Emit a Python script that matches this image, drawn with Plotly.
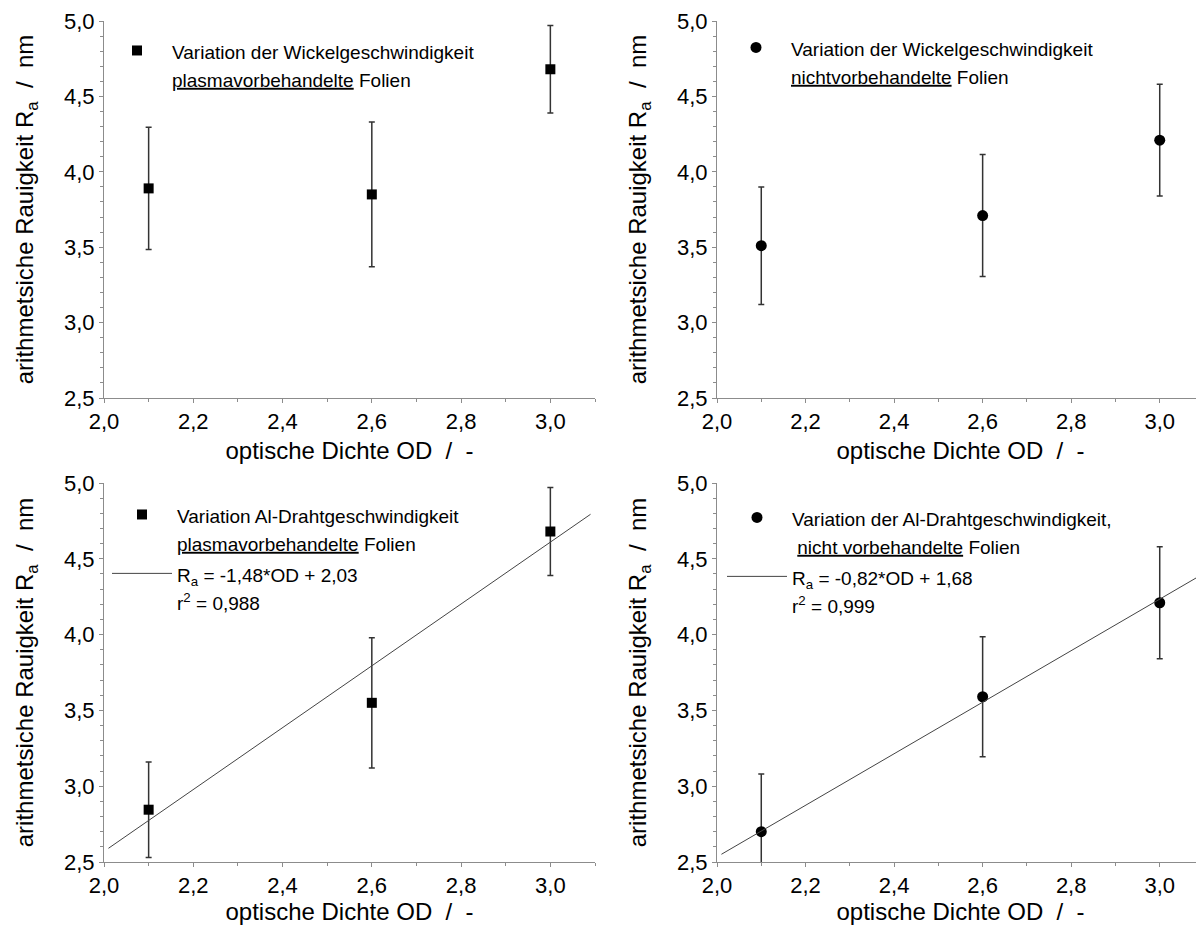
import plotly.graph_objects as go
import numpy as np

# ---------------- data ----------------
od = [2.1, 2.6, 3.0]

ra_wickel_plasma = [3.89, 3.85, 4.68]
err_wickel_plasma = [0.405, 0.48, 0.29]

ra_wickel_nicht = [3.51, 3.71, 4.21]
err_wickel_nicht = [0.39, 0.405, 0.37]

ra_draht_plasma = [2.845, 3.55, 4.68]
err_draht_plasma = [0.315, 0.43, 0.29]

ra_draht_nicht = [2.70, 3.59, 4.21]
err_draht_nicht = [0.38, 0.395, 0.37]

fit_od = [2.01, 3.09]
fit_draht_plasma = (2.04, -1.51)   # slope, intercept as drawn
fit_draht_nicht = (1.70, -0.866)

x_ticks = [2.0, 2.2, 2.4, 2.6, 2.8, 3.0]
y_ticks = [2.5, 3.0, 3.5, 4.0, 4.5, 5.0]

FONT = "Arial, Liberation Sans, sans-serif"
AX_COL = "#8c8c8c"
ERR_COL = "#333333"

W, H = 1204, 927
OFF = 9  # page body offset


def px(xs):
    return (xs - OFF) / W


def py(ys):
    return 1 - (ys - OFF) / H


def lg(t):
    return '<span style="font-size:19px">' + t + '</span>'


fig = go.Figure()


def ebar(err):
    return dict(type="data", array=err, visible=True, color=ERR_COL, thickness=1.5, width=3)


# panel 1
fig.add_trace(go.Scatter(x=od, y=ra_wickel_plasma, error_y=ebar(err_wickel_plasma), mode="markers",
                         marker=dict(symbol="square", size=10, color="black"),
                         name=lg("Variation der Wickelgeschwindigkeit<br><u>plasmavorbehandelte</u> Folien"),
                         xaxis="x", yaxis="y", legend="legend"))
# panel 2
fig.add_trace(go.Scatter(x=od, y=ra_wickel_nicht, error_y=ebar(err_wickel_nicht), mode="markers",
                         marker=dict(symbol="circle", size=11, color="black"),
                         name=lg("Variation der Wickelgeschwindigkeit<br><u>nichtvorbehandelte</u> Folien"),
                         xaxis="x2", yaxis="y2", legend="legend2"))
# panel 3
fig.add_trace(go.Scatter(x=od, y=ra_draht_plasma, error_y=ebar(err_draht_plasma), mode="markers",
                         marker=dict(symbol="square", size=10, color="black"),
                         name=lg("Variation Al-Drahtgeschwindigkeit<br><u>plasmavorbehandelte</u> Folien"),
                         xaxis="x3", yaxis="y3", legend="legend3"))
fx = np.array(fit_od)
fig.add_trace(go.Scatter(x=fx, y=fit_draht_plasma[0] * fx + fit_draht_plasma[1], mode="lines",
                         line=dict(color="#444444", width=1),
                         name=lg("R<sub>a</sub> = -1,48*OD + 2,03<br>r<sup>2</sup> = 0,988"),
                         xaxis="x3", yaxis="y3", legend="legend3"))
# panel 4
fig.add_trace(go.Scatter(x=od, y=ra_draht_nicht, error_y=ebar(err_draht_nicht), mode="markers",
                         marker=dict(symbol="circle", size=11, color="black"),
                         name=lg("Variation der Al-Drahtgeschwindigkeit,<br>\u00a0<u>nicht vorbehandelte</u> Folien"),
                         xaxis="x4", yaxis="y4", legend="legend4"))
fig.add_trace(go.Scatter(x=fx, y=fit_draht_nicht[0] * fx + fit_draht_nicht[1], mode="lines",
                         line=dict(color="#444444", width=1),
                         name=lg("R<sub>a</sub> = -0,82*OD + 1,68<br>r<sup>2</sup> = 0,999"),
                         xaxis="x4", yaxis="y4", legend="legend4"))

xdom_left = [px(105), px(596)]
xdom_right = [px(718), px(1205)]
ydom_top = [py(399), py(22)]
ydom_bot = [py(863), py(484)]


def xax(dom, anchor, standoff):
    return dict(domain=dom, anchor=anchor, range=[2.0, 3.1], tickvals=x_ticks, tickformat=".1f",
                automargin=False, ticklabeloverflow="allow",
                showline=True, linecolor=AX_COL, linewidth=1, ticks="outside", ticklen=4,
                tickcolor=AX_COL, showgrid=False, zeroline=False,
                minor=dict(dtick=0.1, tick0=2.0, ticks="outside", ticklen=3, tickcolor=AX_COL, showgrid=False),
                tickfont=dict(size=22, color="black", family=FONT),
                title=dict(text="optische Dichte OD\u00a0\u00a0/\u00a0\u00a0-", standoff=standoff,
                           font=dict(size=24, color="black", family=FONT)))


def yax(dom, anchor):
    return dict(domain=dom, anchor=anchor, range=[2.5, 5.0], tickvals=y_ticks, tickformat=".1f",
                automargin=False, ticklabeloverflow="allow",
                showline=True, linecolor=AX_COL, linewidth=1, ticks="outside", ticklen=4,
                tickcolor=AX_COL, showgrid=False, zeroline=False,
                minor=dict(dtick=0.1, tick0=2.5, ticks="outside", ticklen=3, tickcolor=AX_COL, showgrid=False),
                tickfont=dict(size=22, color="black", family=FONT),
                title=dict(text="arithmetsiche Rauigkeit R<sub>a</sub>\u00a0\u00a0/\u00a0\u00a0nm", standoff=23,
                           font=dict(size=24, color="black", family=FONT)))


def leg(x, y):
    return dict(x=px(x), y=py(y), xanchor="left", yanchor="top", xref="paper", yref="paper",
                bgcolor="rgba(0,0,0,0)", borderwidth=0, itemwidth=60, valign="top",
                tracegroupgap=2, font=dict(size=21.5, color="black", family=FONT))


fig.update_layout(
    width=W, height=H,
    margin=dict(l=0, r=0, t=0, b=0, pad=0, autoexpand=False),
    paper_bgcolor="white", plot_bgcolor="white",
    separators=",.",
    font=dict(family=FONT, color="black"),
    xaxis=xax(xdom_left, "y", 8), yaxis=yax(ydom_top, "x"),
    xaxis2=xax(xdom_right, "y2", 8), yaxis2=yax(ydom_top, "x2"),
    xaxis3=xax(xdom_left, "y3", 0), yaxis3=yax(ydom_bot, "x3"),
    xaxis4=xax(xdom_right, "y4", 0), yaxis4=yax(ydom_bot, "x4"),
    legend=leg(103, 31),
    legend2=leg(722, 28),
    legend3=leg(108, 495),
    legend4=leg(723, 498),
    showlegend=True,
)

fig.write_html("out.html")
